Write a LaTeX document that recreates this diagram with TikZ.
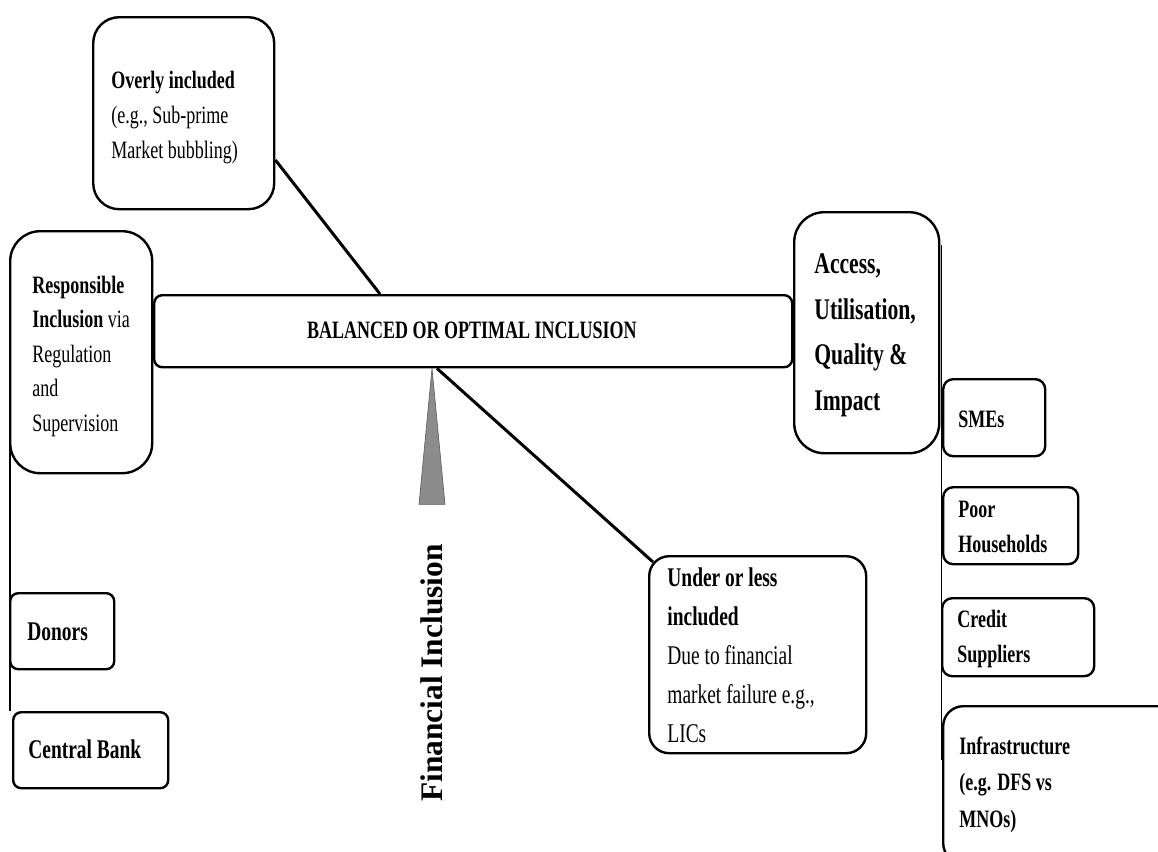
\documentclass[tikz,border=0pt]{standalone}
\usepackage{fontspec}
\setmainfont{Liberation Serif}[FakeStretch=0.72]
\newfontfamily\wideserif{Liberation Serif}
\usetikzlibrary{calc}
\definecolor{trigray}{RGB}{140,140,140}
\begin{document}
\begin{tikzpicture}[x=0.5pt,y=-0.5pt,
  box/.style={draw, line width=1.2pt, inner sep=0pt, anchor=north west},
  txt/.style={anchor=base west, inner sep=0pt, align=left},
  conn/.style={line width=1.5pt},
  thin/.style={line width=0.8pt}]
\useasboundingbox (0,0) rectangle (1158,852);
% boxes
\node[box, minimum width=90.5pt, minimum height=96pt, rounded corners=13pt] (over) at (92,16) {};
\node[box, minimum width=71pt, minimum height=121pt, rounded corners=15pt] (resp) at (9,230) {};
\node[box, minimum width=319pt, minimum height=36pt, rounded corners=4pt] (bal) at (153,294) {};
\node[box, minimum width=72.5pt, minimum height=120.5pt, rounded corners=15pt] (acc) at (793,211) {};
\node[box, minimum width=51pt, minimum height=38.5pt, rounded corners=5pt] (sme) at (942,378) {};
\node[box, minimum width=67.5pt, minimum height=38.5pt, rounded corners=5pt] (poor) at (942,486) {};
\node[box, minimum width=76pt, minimum height=39pt, rounded corners=5pt] (cred) at (941,597) {};
\node[box, minimum width=119pt, minimum height=78.5pt, rounded corners=10pt] (infra) at (942,705) {};
\node[box, minimum width=108.5pt, minimum height=98.5pt, rounded corners=10pt] (under) at (648,555) {};
\node[box, minimum width=52pt, minimum height=38pt, rounded corners=4pt] (don) at (9,592) {};
\node[box, minimum width=77.5pt, minimum height=38pt, rounded corners=4pt] (cb) at (12,711) {};
% texts (anchored at the baseline of the last line)
\node[txt, font=\fontsize{12.5}{17.5}\selectfont] (overT) at (111,158)
  {\textbf{Overly included}\\(e.g., Sub-prime\\Market bubbling)};
\node[txt, font=\fontsize{12.5}{17.25}\selectfont] (respT) at (32,431)
  {\textbf{Responsible}\\\textbf{Inclusion} via\\Regulation\\and\\Supervision};
\node[anchor=base, inner sep=0pt, font=\fontsize{12.5}{15}\selectfont\bfseries] (balT) at (472,338)
  {BALANCED OR OPTIMAL INCLUSION};
\node[txt, font=\fontsize{15}{22.75}\selectfont\bfseries] (accT) at (814,410)
  {Access,\\Utilisation,\\Quality \&\\Impact};
\node[txt, font=\fontsize{12.5}{17.5}\selectfont\bfseries] (smeT) at (958,427) {SMEs};
\node[txt, font=\fontsize{12.5}{17.5}\selectfont\bfseries] (poorT) at (958,552) {Poor\\Households};
\node[txt, font=\fontsize{12.5}{17.5}\selectfont\bfseries] (credT) at (957,662) {Credit\\Suppliers};
\node[txt, font=\fontsize{12.5}{18.25}\selectfont\bfseries] (infraT) at (959,827)
  {Infrastructure\\(e.g. DFS vs\\MNOs)};
\node[txt, font=\fontsize{13.5}{19.4}\selectfont] (underT) at (667,742)
  {\textbf{Under or less}\\\textbf{included}\\Due to financial\\market failure e.g.,\\LICs};
\node[txt, font=\fontsize{13.5}{17.5}\selectfont\bfseries] (donT) at (27,640) {Donors};
\node[txt, font=\fontsize{13.5}{17.5}\selectfont\bfseries] (cbT) at (28,758) {Central Bank};
\node[rotate=90, inner sep=0pt, font=\wideserif\fontsize{15.7}{18}\selectfont\bfseries] (fin) at (432,673)
  {Financial Inclusion};
% connectors
\draw[conn] ($(over.north east)+(0,144)$) -- ($(bal.north west)+(227,0)$);
\draw[conn] ($(bal.south west)+(284,0)$) -- ($(under.north west)+(5,7)$);
\fill[trigray, draw=gray!70!black, line width=0.3pt]
  ($(bal.south west)+(279,0)$) -- ($(bal.south west)+(292,136)$) -- ($(bal.south west)+(266,136)$) -- cycle;
\coordinate (lbot) at ($(cb.north west)+(-2,0)$);
\draw[thin] ($(resp.south west)+(1,-30)$) -- (lbot);
\coordinate (rtop) at ($(acc.north east)+(1,34)$);
\coordinate (rbot) at ($(acc.north east)+(1,549)$);
\draw[thin] (rtop) -- (rbot);
\end{tikzpicture}
\end{document}
